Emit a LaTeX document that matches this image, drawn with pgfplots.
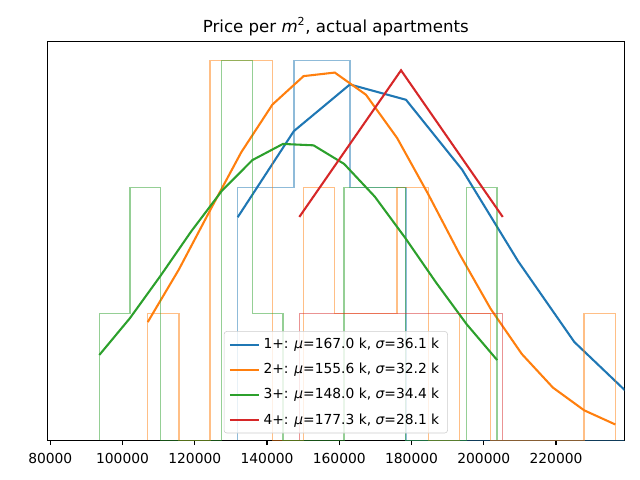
\documentclass[border=0pt]{standalone}
\usepackage{fontspec}
\setmainfont{DejaVu Sans}
\usepackage{pgfplots}
\pgfplotsset{compat=1.18}
\definecolor{cb}{HTML}{1F77B4}
\definecolor{co}{HTML}{FF7F0E}
\definecolor{cg}{HTML}{2CA02C}
\definecolor{cr}{HTML}{D62728}
\begin{document}
\begin{tikzpicture}
\begin{axis}[
    scale only axis,
    width=5.77in, height=3.986in,
    xmin=79170, xmax=238900,
    ymin=0, ymax=3.15,
    ytick=\empty,
    xtick={80000,100000,120000,140000,160000,180000,200000,220000},
    xticklabels={80000,100000,120000,140000,160000,180000,200000,220000},
    scaled x ticks=false,
    xtick pos=left,
    tick align=outside,
    major tick length=3.5pt,
    every tick/.style={black, line width=0.8pt},
    axis line style={line width=0.8pt},
    ticklabel style={font=\fontsize{10}{12}\selectfont},
    xticklabel style={yshift=-2pt},
    title={Price per {\itshape m}\textsuperscript{2}, actual apartments},
    title style={font=\fontsize{12}{14}\selectfont, at={(0.5,1)}, anchor=base, yshift=1pt},
    legend cell align=left,
    legend image code/.code={\draw[#1] (0pt,0pt) -- (21pt,0pt);},
    legend style={at={(0.5,0.0176)}, anchor=south, draw=black!20, rounded corners=2pt,
        fill=white, fill opacity=0.8, text opacity=1,
        font=\fontsize{10}{12}\selectfont, inner xsep=3.5pt, inner ysep=4pt,
        row sep=7pt, nodes={inner xsep=2.5pt, inner ysep=1pt}},
]
% 1+
\addplot[const plot, cb, opacity=0.5, line width=1pt, forget plot] coordinates {
    (131880,0)(131880,2)(147410,3)(162940,2)(178470,0)(194000,0)(209530,0)(225060,0)(240590,1)(256120,1)(256120,0)};
\addplot[cb, line width=1.5pt] coordinates {
    (131880,1.763)(147410,2.443)(162940,2.812)(178470,2.691)(194000,2.139)(209530,1.414)(225060,0.777)(240590,0.354)(256120,0.135)};
\addlegendentry{1+: {\itshape μ}=167.0 k, {\itshape σ}=36.1 k}
% 2+
\addplot[const plot, co, opacity=0.5, line width=1pt, forget plot] coordinates {
    (106966,0)(106966,1)(115596,0)(124226,3)(132856,3)(141486,0)(150116,2)(158746,1)(167376,1)(176006,2)(184636,0)(193266,1)(201896,0)(210526,0)(219156,0)(227786,1)(236416,1)(236416,0)};
\addplot[co, line width=1.5pt] coordinates {
    (106966,0.934)(115596,1.350)(124226,1.817)(132856,2.276)(141486,2.653)(150116,2.878)(158746,2.906)(167376,2.731)(176006,2.389)(184636,1.944)(193266,1.473)(201896,1.039)(210526,0.682)(219156,0.416)(227786,0.237)(236416,0.125)};
\addlegendentry{2+: {\itshape μ}=155.6 k, {\itshape σ}=32.2 k}
% 3+
\addplot[const plot, cg, opacity=0.5, line width=1pt, forget plot] coordinates {
    (93566,0)(93566,1)(102038,2)(110510,0)(118982,0)(127454,3)(135926,1)(144398,0)(152870,0)(161342,2)(169814,2)(178286,0)(186758,0)(195230,2)(203702,2)(203702,0)};
\addplot[cg, line width=1.5pt] coordinates {
    (93566,0.674)(102038,0.965)(110510,1.300)(118982,1.650)(127454,1.970)(135926,2.214)(144398,2.342)(152870,2.331)(161342,2.184)(169814,1.926)(178286,1.598)(186758,1.248)(195230,0.918)(203702,0.634)};
\addlegendentry{3+: {\itshape μ}=148.0 k, {\itshape σ}=34.4 k}
% 4+
\addplot[const plot, cr, opacity=0.5, line width=1pt, forget plot] coordinates {
    (148937,0)(148937,1)(177093,1)(205249,1)(205249,0)};
\addplot[cr, line width=1.5pt] coordinates {
    (148937,1.765)(177093,2.924)(205249,1.765)};
\addlegendentry{4+: {\itshape μ}=177.3 k, {\itshape σ}=28.1 k}
\end{axis}
\pgfresetboundingbox
\path[use as bounding box] ([shift={(-0.473in,-0.397in)}]current axis.south west)
    rectangle ([shift={(0.157in,0.417in)}]current axis.north east);
\end{tikzpicture}
\end{document}
